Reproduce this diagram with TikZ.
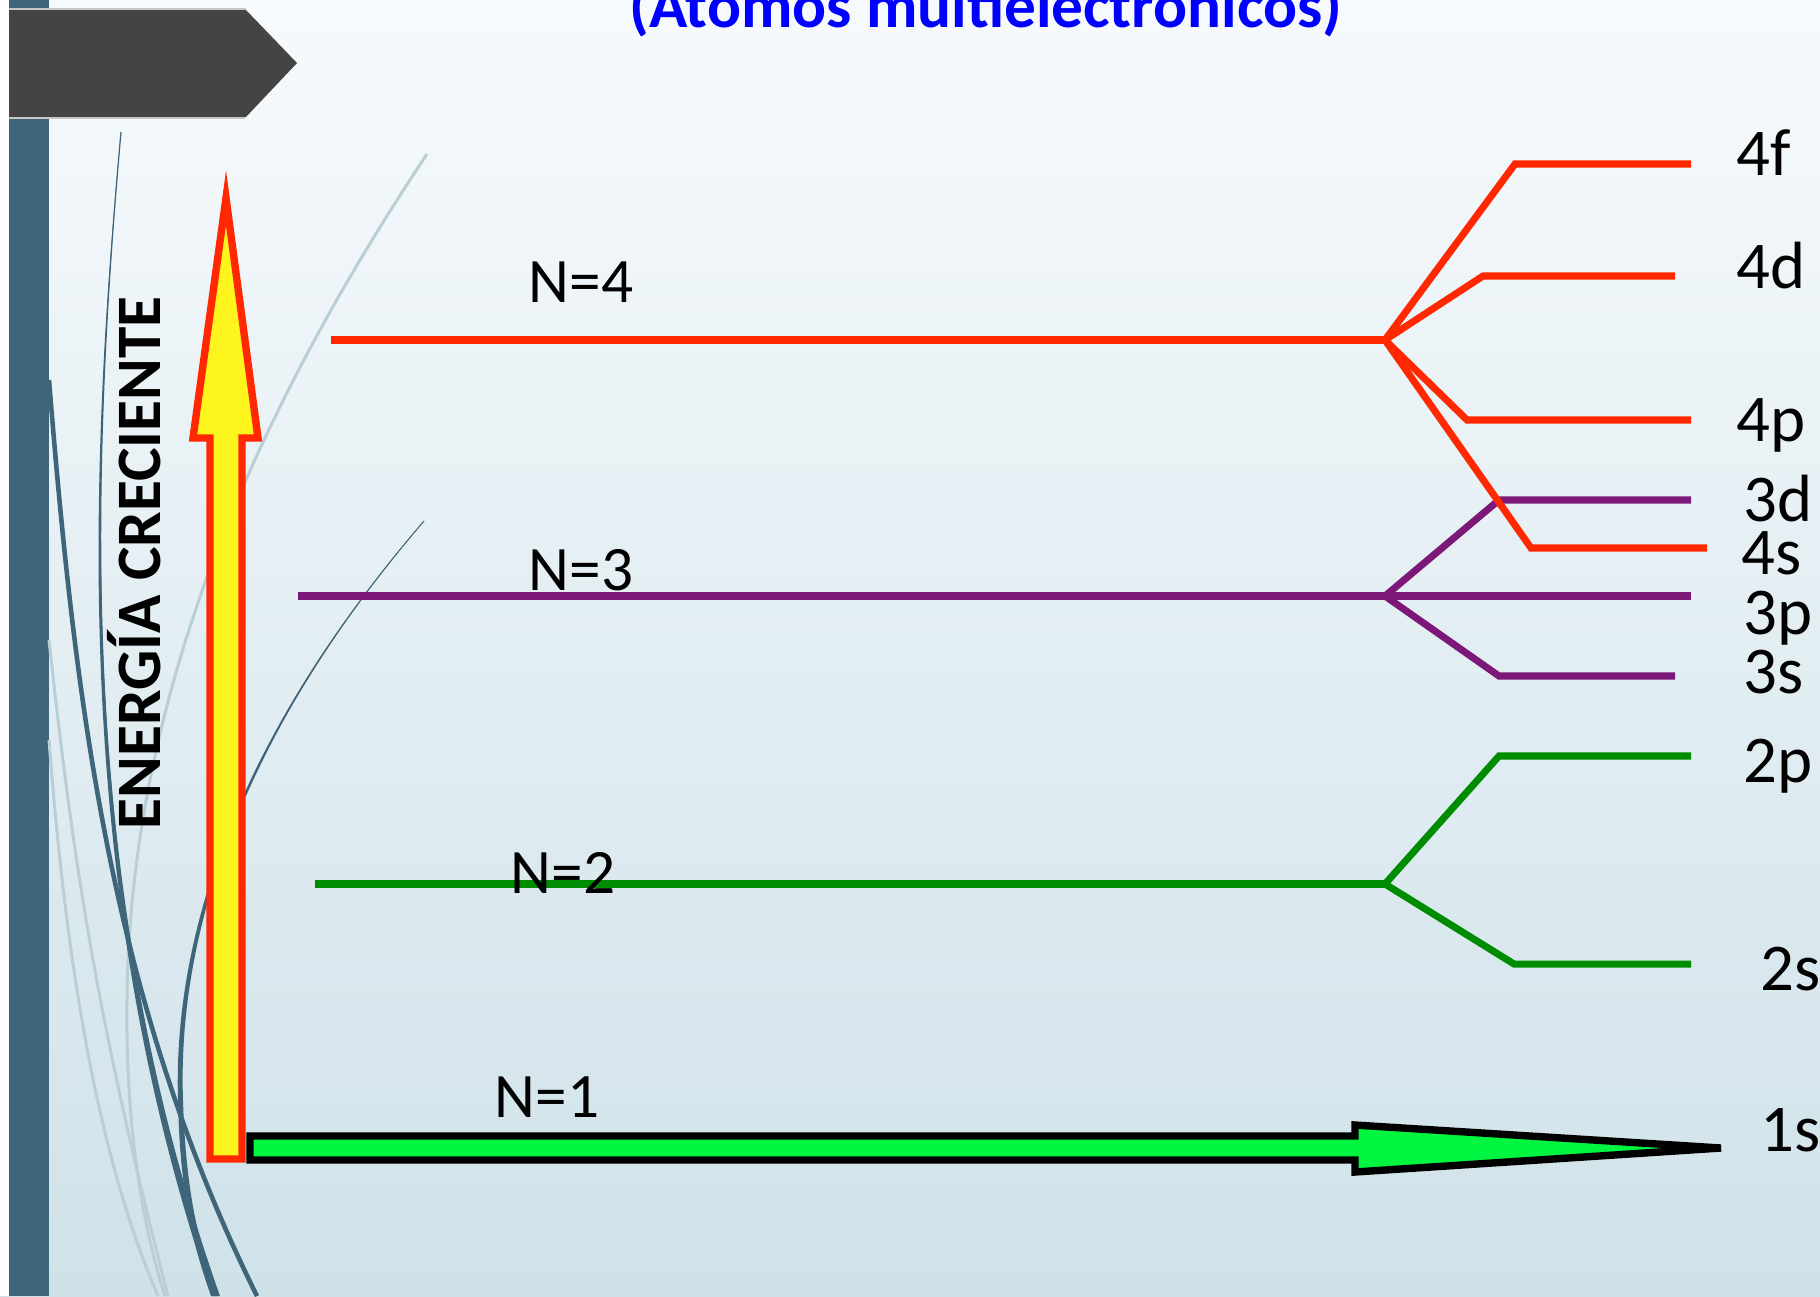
\documentclass[tikz,border=0pt]{standalone}
\usepackage{fontspec}
\setmainfont{Carlito}
\definecolor{bgtop}{RGB}{247,250,252}
\definecolor{bgbot}{RGB}{207,226,233}
\definecolor{wisp}{RGB}{62,101,121}
\definecolor{wisplight}{RGB}{186,206,214}
\definecolor{headgray}{RGB}{68,68,68}
\definecolor{lvred}{RGB}{255,40,0}
\definecolor{lvpurple}{RGB}{123,24,120}
\definecolor{lvgreen}{RGB}{0,140,0}
\definecolor{arrowyellow}{RGB}{255,245,30}
\definecolor{arrowgreen}{RGB}{0,245,64}
\definecolor{titleblue}{RGB}{0,0,255}
\begin{document}
\begin{tikzpicture}[x=0.01cm,y=-0.01cm,
  level/.style={line width=2pt},
  shelllabel/.style={font=\fontsize{18}{20}\selectfont, anchor=base west, inner sep=0pt},
  orblabel/.style={font=\fontsize{19}{21}\selectfont, anchor=base west, inner sep=0pt},
  darkwisp/.style={draw=wisp},
  lightwisp/.style={draw=wisplight, line width=0.85pt}]
\useasboundingbox (0,0) rectangle (1820,1296);
\clip (0,0) rectangle (1820,1296);

% background
\shade[top color=bgtop, bottom color=bgbot] (0,0) rectangle (1820,1296);
\fill[white] (0,0) rectangle (9,1296);
\fill[wisp] (9,0) rectangle (49,1296);

% decorative wisps
\draw[lightwisp] (427,154) .. controls (250,420) and (130,700) .. (127,1000)
  .. controls (125,1150) and (150,1250) .. (165,1296);
\draw[lightwisp] (49,640) .. controls (75,880) and (100,1030) .. (168,1296);
\draw[lightwisp] (49,740) .. controls (65,950) and (95,1150) .. (158,1296);
\draw[darkwisp, line width=1.3pt] (49,380) .. controls (75,700) and (110,1000) .. (257,1296);
\fill[wisp] (121,132) .. controls (88,500) and (80,900) .. (220,1296)
  -- (212,1296) .. controls (76,900) and (86,500) .. (121,132) -- cycle;
\draw[darkwisp, line width=0.35pt] (121,132) .. controls (88,500) and (80,900) .. (216,1296);
\fill[wisp] (424,521) .. controls (270,700) and (176,900) .. (183,1100)
  .. controls (186,1200) and (201,1250) .. (218,1296)
  -- (211,1296) .. controls (195,1250) and (180,1200) .. (178,1100)
  .. controls (172,900) and (268,700) .. (424,521) -- cycle;
\draw[darkwisp, line width=0.3pt] (424,521) .. controls (270,700) and (174,900) .. (180,1100);

% header tab
\fill[headgray] (9,10) -- (246,10) -- (297,63) -- (246,117) -- (9,117) -- cycle;
\draw[gray!45, line width=0.4pt] (9,9) -- (246,9);
\draw[gray!45, line width=0.4pt] (9,118) -- (245,118);

% title
\node[font=\fontsize{18}{20}\selectfont\bfseries, text=titleblue, anchor=base, inner sep=0pt]
  (title) at (986,27) {(Átomos multielectrónicos)};

% vertical caption
\node[font=\fontsize{18}{20}\selectfont\bfseries, rotate=90, anchor=base, inner sep=0pt]
  (energy) at (160,563) {ENERGÍA CRECIENTE};

% level coordinates
\coordinate (n4a) at (331,340);  \coordinate (n4b) at (1385,340);
\coordinate (f4a) at (1515,164); \coordinate (f4b) at (1691,164);
\coordinate (d4a) at (1483,276); \coordinate (d4b) at (1675,276);
\coordinate (p4a) at (1467,420); \coordinate (p4b) at (1691,420);
\coordinate (s4a) at (1531,548); \coordinate (s4b) at (1707,548);
\coordinate (n3a) at (298,596);  \coordinate (n3b) at (1385,596);
\coordinate (d3a) at (1499,500); \coordinate (d3b) at (1691,500);
\coordinate (p3b) at (1691,596);
\coordinate (s3a) at (1499,676); \coordinate (s3b) at (1675,676);
\coordinate (n2a) at (315,884);  \coordinate (n2b) at (1385,884);
\coordinate (p2a) at (1499,756); \coordinate (p2b) at (1691,756);
\coordinate (s2a) at (1514,964); \coordinate (s2b) at (1691,964);

% n = 2
\draw[level, lvgreen] (n2a) -- (n2b);
\draw[level, lvgreen] (n2b) -- (p2a) -- (p2b);
\draw[level, lvgreen] (n2b) -- (s2a) -- (s2b);

% n = 3
\draw[level, lvpurple] (n3a) -- (n3b) -- (p3b);
\draw[level, lvpurple] (n3b) -- (d3a) -- (d3b);
\draw[level, lvpurple] (n3b) -- (s3a) -- (s3b);

% n = 4
\draw[level, lvred] (n4a) -- (n4b);
\draw[level, lvred] (n4b) -- (f4a) -- (f4b);
\draw[level, lvred] (n4b) -- (d4a) -- (d4b);
\draw[level, lvred] (n4b) -- (p4a) -- (p4b);
\draw[level, lvred] (n4b) -- (s4a) -- (s4b);

% energy arrow
\filldraw[fill=arrowyellow, draw=lvred, line width=2.1pt]
  (210,1159) -- (210,438) -- (193,438) -- (226,198) -- (258,438) -- (242,438) -- (242,1159) -- cycle;

% 1s arrow
\filldraw[fill=arrowgreen, draw=black, line width=2.1pt]
  (250,1136) -- (1355,1136) -- (1355,1125) -- (1721,1148) -- (1355,1172) -- (1355,1160) -- (250,1160) -- cycle;

% shell labels
\node[shelllabel] (lab4) at (528,302) {N=4};
\node[shelllabel] (lab3) at (528,590) {N=3};
\node[shelllabel] (lab2) at (510,893) {N=2};
\node[shelllabel] (lab1) at (494,1117) {N=1};

% sublevel labels
\node[orblabel] (l4f) at (1736,175) {4f};
\node[orblabel] (l4d) at (1736,288) {4d};
\node[orblabel] (l4p) at (1736,441) {4p};
\node[orblabel] (l3d) at (1743,521) {3d};
\node[orblabel] (l4s) at (1741,574) {4s};
\node[orblabel] (l3p) at (1743,634) {3p};
\node[orblabel] (l3s) at (1743,693) {3s};
\node[orblabel] (l2p) at (1743,782) {2p};
\node[orblabel] (l2s) at (1760,990) {2s};
\node[orblabel] (l1s) at (1760,1151) {1s};
\end{tikzpicture}
\end{document}
